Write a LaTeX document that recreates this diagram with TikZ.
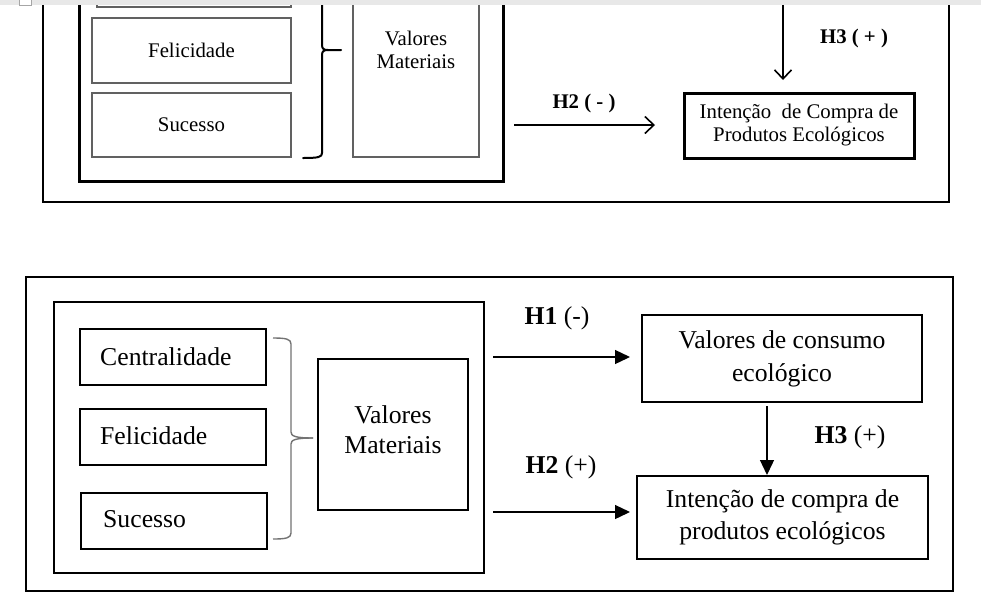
\documentclass[tikz,border=0pt]{standalone}
\usepackage{fontspec}
\setmainfont{Liberation Serif}
\usetikzlibrary{arrows.meta}
\tikzset{
  x=1pt, y=-1pt,
  topfont/.style={font=\fontsize{20.8}{23}\selectfont},
  botfont/.style={font=\fontsize{25.7}{32}\selectfont},
  graybox/.style={draw=black!62, line width=1.4pt, rectangle, inner sep=0pt, topfont},
  thickbox/.style={draw=black, line width=3pt, rectangle, inner sep=0pt, topfont},
  medbox/.style={draw=black, line width=2pt, rectangle, inner sep=0pt},
  bbox/.style={draw=black, line width=2pt, rectangle, inner sep=0pt, botfont},
  openarrow/.style={line width=1.6pt, -{Straight Barb[length=9pt,width=17pt,line width=1.6pt]}},
  filledarrow/.style={line width=1.3pt, -{Triangle[length=15pt,width=14pt]}},
  lbl/.style={inner sep=0pt},
}
\begin{document}
\begin{tikzpicture}
\useasboundingbox (0,0) rectangle (981,592);
\fill[white] (0,0) rectangle (981,592);
% gray bar at top
\fill[black!9] (0,0) rectangle (981,5);
\node[draw=black!35, fill=white, line width=0.8pt, minimum width=12pt, minimum height=7pt, inner sep=0pt] (sq) at (25.5,1.5) {};

% ---------- top (cut) figure ----------
\begin{scope}
\clip (0,5) rectangle (981,592);
\node[medbox, minimum width=906pt, minimum height=242pt] (tout) at (496,81) {};
\node[thickbox, minimum width=424pt, minimum height=221pt] (tin) at (291,70.5) {};
\node[graybox, minimum width=194pt, minimum height=60pt] (tcen) at (194,-23) {};
\node[graybox, minimum width=199pt, minimum height=65pt] (tfel) at (191.5,50.5) {Felicidade};
\node[graybox, minimum width=199pt, minimum height=64pt] (tsuc) at (191.5,125) {Sucesso};
\node[graybox, minimum width=126pt, minimum height=200pt] (tvm) at (416,57) {};
\node[lbl, topfont, align=center] (tvmtxt) at (416,50) {Valores\\Materiais};
\draw[line width=2pt, line cap=round] (322,-10) -- (322,45) .. controls (322,49) and (324,50) .. (328,50) -- (341,50);
\draw[line width=2pt, line cap=round] (328,50) .. controls (324,50) and (322,51) .. (322,55) -- (322,153) .. controls (322,157) and (319,158) .. (303,158);
\coordinate (th3s) at (783,4);
\coordinate (th3e) at (783,80);
\draw[openarrow] (th3s) -- (th3e);
\end{scope}
\node[lbl, topfont] (th3l) at (854,38) {\textbf{H3 ( + )}};
\node[lbl, topfont] (th2l) at (584,103) {\textbf{H2 ( - )}};
\coordinate (th2s) at (514,125);
\coordinate (th2e) at (655,125);
\draw[openarrow] (th2s) -- (th2e);
\node[thickbox, minimum width=230pt, minimum height=65pt, align=center] (tint) at (799,125.5) {Intenção\ \ de Compra de\\Produtos Ecológicos};

% ---------- bottom figure ----------
\node[medbox, minimum width=927pt, minimum height=314pt] (bout) at (489.5,434) {};
\node[medbox, minimum width=430pt, minimum height=271pt] (bin) at (269,437.5) {};
\node[bbox, minimum width=186pt, minimum height=56pt] (bcen) at (173,357) {};
\node[lbl, botfont, anchor=west] (bcentxt) at (100,357) {Centralidade};
\node[bbox, minimum width=186pt, minimum height=56pt] (bfel) at (173,437) {};
\node[lbl, botfont, anchor=west] (bfeltxt) at (100,436) {Felicidade};
\node[bbox, minimum width=186pt, minimum height=56pt] (bsuc) at (174,521) {};
\node[lbl, botfont, anchor=west] (bsuctxt) at (103,519) {Sucesso};
\draw[black!55, line width=1.4pt] (273,338) .. controls (286,338) and (291,339) .. (291,344) -- (291,432) .. controls (291,436) and (295,438) .. (313,438);
\draw[black!55, line width=1.4pt] (313,438) .. controls (295,438) and (291,440) .. (291,444) -- (291,533) .. controls (291,538) and (286,539) .. (273,539);
\node[bbox, minimum width=150pt, minimum height=151pt] (bvm) at (393,434.5) {};
\node[lbl, botfont, align=center, font=\fontsize{25.7}{30}\selectfont] (bvmtxt) at (393,430) {Valores\\Materiais};
\node[bbox, minimum width=280pt, minimum height=87pt, align=center, font=\fontsize{25.7}{33}\selectfont] (bvdc) at (782,358.5) {Valores de consumo\\ecológico};
\node[bbox, minimum width=291pt, minimum height=83pt, align=center] (bint) at (782.5,517.5) {Intenção de compra de\\produtos ecológicos};
\coordinate (bh1s) at (493,357);
\coordinate (bh1e) at (630,357);
\draw[filledarrow] (bh1s) -- (bh1e);
\coordinate (bh2s) at (493,512);
\coordinate (bh2e) at (630,512);
\draw[filledarrow] (bh2s) -- (bh2e);
\coordinate (bh3x) at (767,0);
\draw[filledarrow, shorten <=3pt] (bvdc.south -| bh3x) -- (bint.north -| bh3x);
\node[lbl, botfont] (bh1l) at (557,318) {\textbf{H1} (-)};
\node[lbl, botfont] (bh2l) at (561,467) {\textbf{H2} (+)};
\node[lbl, botfont] (bh3l) at (850,437) {\textbf{H3} (+)};
\end{tikzpicture}
\end{document}
